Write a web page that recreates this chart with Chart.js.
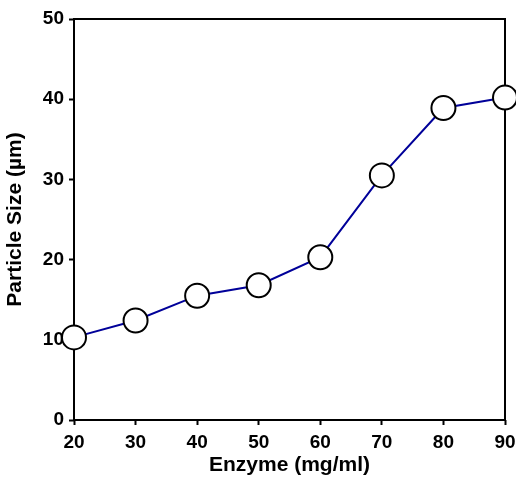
<!DOCTYPE html>
<html>
<head>
<meta charset="utf-8">
<script src="https://cdn.jsdelivr.net/npm/chart.js@4.4.1/dist/chart.umd.min.js"></script>
<style>
  html, body { margin: 0; padding: 0; background: #fff; }
  #wrap { width: 516px; height: 478px; }
</style>
</head>
<body>
<div id="wrap"><canvas id="chart"></canvas></div>
<script>
var enzyme = [20, 30, 40, 50, 60, 70, 80, 90];
var particleSize = [10.3, 12.4, 15.5, 16.8, 20.3, 30.5, 38.9, 40.2];
var xTicks = [20, 30, 40, 50, 60, 70, 80, 90];
var yTicks = [0, 10, 20, 30, 40, 50];

var FONT = "'Liberation Sans', Arial, sans-serif";

// frame around the plot area, drawn under the points
var frame = {
  id: 'frame',
  beforeDatasetsDraw: function(chart) {
    var a = chart.chartArea, ctx = chart.ctx;
    ctx.save();
    ctx.strokeStyle = '#000';
    ctx.lineWidth = 2;
    ctx.strokeRect(a.left, a.top, a.right - a.left, a.bottom - a.top);
    ctx.restore();
  }
};

new Chart(document.getElementById('chart'), {
  type: 'line',
  data: {
    datasets: [{
      data: enzyme.map(function(x, i){ return {x: x, y: particleSize[i]}; }),
      borderColor: '#000099',
      borderWidth: 2,
      pointRadius: 12,
      pointBackgroundColor: '#fff',
      pointBorderColor: '#000',
      pointBorderWidth: 2,
      clip: false,
      tension: 0
    }]
  },
  plugins: [frame],
  options: {
    responsive: true,
    maintainAspectRatio: false,
    animation: false,
    layout: { autoPadding: false, padding: { top: 19, right: 11, left: 0, bottom: 0 } },
    plugins: { legend: { display: false }, tooltip: { enabled: false } },
    scales: {
      x: {
        type: 'linear',
        min: 20, max: 90,
        afterBuildTicks: function(s){ s.ticks = xTicks.map(function(v){ return {value: v}; }); },
        afterFit: function(s){ s.height = 58; s.paddingRight = 0; s.paddingLeft = 0; },
        grid: { drawOnChartArea: false, tickLength: 5, tickColor: '#000', tickWidth: 2 },
        border: { display: false },
        ticks: { color: '#000', padding: 6, font: { family: FONT, size: 19, weight: 'bold' } },
        title: { display: true, text: 'Enzyme (mg/ml)', color: '#000', padding: { top: 0, bottom: 0 },
                 font: { family: FONT, size: 21, weight: 'bold' } }
      },
      y: {
        min: 0, max: 50,
        afterBuildTicks: function(s){ s.ticks = yTicks.map(function(v){ return {value: v}; }); },
        afterFit: function(s){ s.width = 74; s.paddingTop = 0; s.paddingBottom = 0; },
        grid: { drawOnChartArea: false, tickLength: 5, tickColor: '#000', tickWidth: 2 },
        border: { display: false },
        ticks: { color: '#000', padding: 5, font: { family: FONT, size: 19, weight: 'bold' } },
        title: { display: true, text: 'Particle Size (µm)', color: '#000', padding: { top: 3, bottom: 0 },
                 font: { family: FONT, size: 21, weight: 'bold' } }
      }
    }
  }
});
</script>
</body>
</html>
